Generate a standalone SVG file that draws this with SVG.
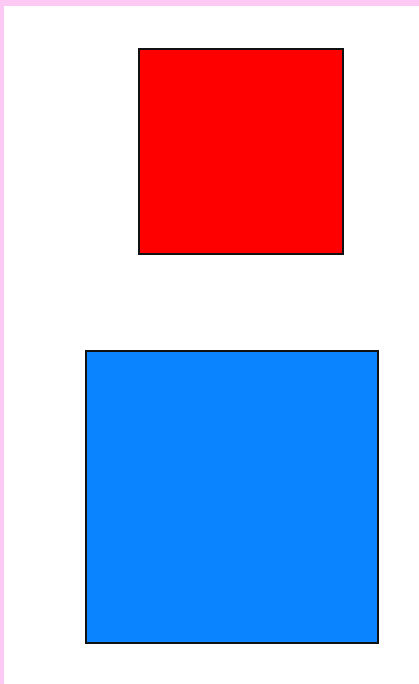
<svg xmlns="http://www.w3.org/2000/svg" width="419" height="684" viewBox="0 0 419 684">
<style>
.sq{stroke:#111;stroke-width:2}
</style>
<rect x="0" y="0" width="419" height="684" fill="#ffffff"/>
<rect x="0" y="0" width="419" height="6" fill="#fbc9f4"/>
<rect x="0" y="0" width="4" height="684" fill="#fbc9f4"/>
<g id="red-square">
<rect class="sq" x="139" y="49" width="204" height="205" fill="#ff0000"/>
</g>
<g id="blue-square">
<rect class="sq" x="86" y="351" width="292" height="292" fill="#0a84ff"/>
</g>
<g id="connectors"/>
</svg>
